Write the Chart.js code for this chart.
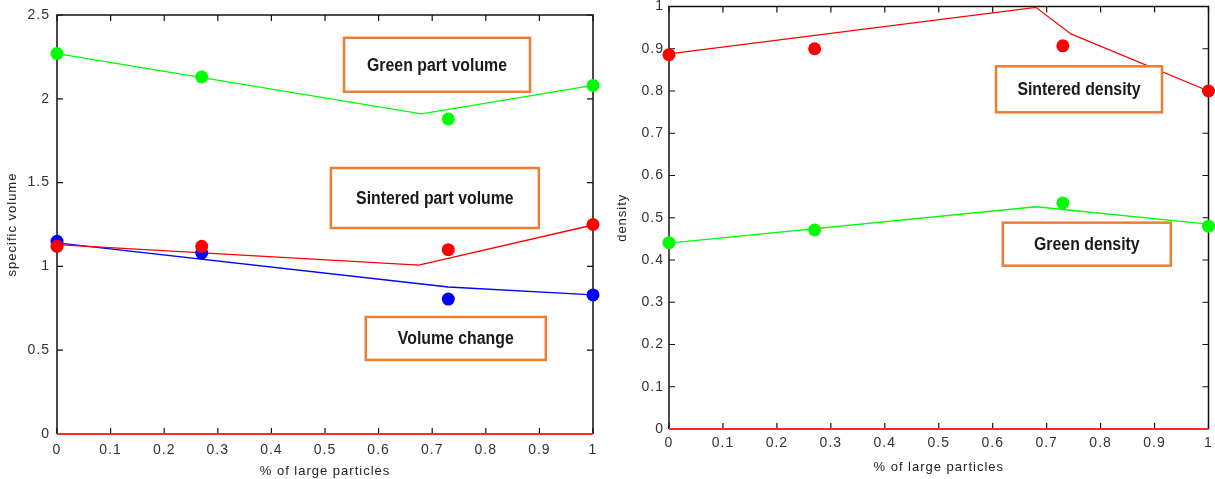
<!DOCTYPE html>
<html>
<head>
<meta charset="utf-8">
<script src="https://cdn.jsdelivr.net/npm/chart.js@4/dist/chart.umd.min.js"></script>
<style>
  html, body { margin: 0; padding: 0; background: #fff; }
  #left  { position: absolute; left: 0;   top: 0; }
  #right { position: absolute; left: 605px; top: 0; }
</style>
</head>
<body>
<canvas id="left" width="605" height="479"></canvas>
<canvas id="right" width="610" height="479"></canvas>
<script>
// ── Data ────────────────────────────────────────────────────────────────
const xMeasured = [0, 0.27, 0.73, 1];

// specific volume (left panel)
const greenVolume    = [2.27, 2.13, 1.88, 2.08];
const sinteredVolume = [1.12, 1.12, 1.10, 1.25];
const volumeChange   = [1.15, 1.08, 0.805, 0.83];

// fitted curves, left panel
const greenVolumeFitX    = [0, 0.68, 1];
const greenVolumeFit     = [2.27, 1.91, 2.08];
const sinteredVolumeFitX = [0, 0.675, 1];
const sinteredVolumeFit  = [1.13, 1.008, 1.247];
const volumeChangeFitX   = [0, 0.73, 1];
const volumeChangeFit    = [1.14, 0.877, 0.83];

// density (right panel)
const sinteredDensity = [0.886, 0.90, 0.907, 0.80];
const greenDensity    = [0.441, 0.471, 0.535, 0.48];

const sinteredDensityFitX = [0, 0.68, 0.745, 1];
const sinteredDensityFit  = [0.888, 0.998, 0.935, 0.80];
const greenDensityFitX    = [0, 0.68, 1];
const greenDensityFit     = [0.44, 0.526, 0.485];

const volumeLabels  = ['Green part volume', 'Sintered part volume', 'Volume change'];
const densityLabels = ['Sintered density', 'Green density'];

// ── Styling helpers ─────────────────────────────────────────────────────
const GREEN = '#00ff00', RED = '#ff0000', BLUE = '#0000ff', ORANGE = '#ed7d31';
const FAMILY = "'Liberation Sans', Arial, sans-serif";

const pairs = (xs, ys) => xs.map((x, i) => ({ x, y: ys[i] }));
const fmt = v => String(Math.round(v * 10) / 10);

function dots(ys, color) {
  return {
    data: pairs(xMeasured, ys), showLine: false, clip: false,
    pointRadius: 6.5, pointHoverRadius: 6.5, borderWidth: 0,
    pointBackgroundColor: color, pointBorderColor: color,
  };
}

function curve(xs, ys, color) {
  return {
    data: pairs(xs, ys), showLine: true, clip: false,
    pointRadius: 0, borderColor: color, borderWidth: 1.3, tension: 0,
  };
}

// Black frame with inward ticks, red line along y = 0
const framePlugin = {
  id: 'frame',
  beforeDraw(chart) { chart.ctx.letterSpacing = '1px'; },
  beforeDatasetsDraw(chart) {
    const { ctx, chartArea: a, scales: { x, y } } = chart;
    ctx.save();
    ctx.strokeStyle = '#111';
    ctx.lineWidth = 1.5;
    ctx.beginPath();
    ctx.moveTo(a.left, a.bottom); ctx.lineTo(a.left, a.top);
    ctx.lineTo(a.right, a.top);   ctx.lineTo(a.right, a.bottom);
    ctx.stroke();
    ctx.lineWidth = 1.2;
    ctx.beginPath();
    x.ticks.forEach(t => {
      const px = x.getPixelForValue(t.value);
      ctx.moveTo(px, a.bottom); ctx.lineTo(px, a.bottom - 6);
      ctx.moveTo(px, a.top);    ctx.lineTo(px, a.top + 6);
    });
    y.ticks.forEach(t => {
      const py = y.getPixelForValue(t.value);
      ctx.moveTo(a.left, py);  ctx.lineTo(a.left + 6, py);
      ctx.moveTo(a.right, py); ctx.lineTo(a.right - 6, py);
    });
    ctx.stroke();
    ctx.strokeStyle = '#ff2a2a';
    ctx.lineWidth = 2;
    ctx.beginPath();
    ctx.moveTo(a.left, a.bottom); ctx.lineTo(a.right, a.bottom);
    ctx.stroke();
    ctx.restore();
  }
};

// Orange-bordered text boxes, centred on data coordinates
const boxPlugin = {
  id: 'boxes',
  afterDatasetsDraw(chart, args, opts) {
    const { ctx, scales: { x, y } } = chart;
    (opts.items || []).forEach(b => {
      const cx = x.getPixelForValue(b.x), cy = y.getPixelForValue(b.y);
      ctx.save();
      ctx.letterSpacing = '0px';
      ctx.fillStyle = '#fff';
      ctx.fillRect(cx - b.w / 2, cy - b.h / 2, b.w, b.h);
      ctx.strokeStyle = ORANGE;
      ctx.lineWidth = 2.5;
      ctx.strokeRect(cx - b.w / 2, cy - b.h / 2, b.w, b.h);
      // condensed look: squeeze a bold face horizontally
      ctx.translate(cx, cy + 1);
      ctx.scale(0.88, 1);
      ctx.fillStyle = '#1a1a1a';
      ctx.font = 'bold 18px ' + FAMILY;
      ctx.textAlign = 'center';
      ctx.textBaseline = 'middle';
      ctx.fillText(b.text, 0, 0);
      ctx.restore();
    });
  }
};

function scales(opt) {
  return {
    x: {
      type: 'linear', min: 0, max: 1,
      grid: { display: false, drawTicks: false }, border: { display: false },
      ticks: { stepSize: 0.1, autoSkip: false, maxRotation: 0, padding: opt.xPad,
               color: '#333', font: { size: 14, family: FAMILY }, callback: fmt },
      title: { display: true, text: '% of large particles', color: '#222',
               font: { size: 13, family: FAMILY }, padding: { top: 0, bottom: opt.xTitlePad } },
      afterFit: s => { s.height = opt.xHeight; s.paddingLeft = 0; s.paddingRight = 0; },
    },
    y: {
      type: 'linear', min: 0, max: opt.yMax,
      grid: { display: false, drawTicks: false }, border: { display: false },
      ticks: { stepSize: opt.yStep, autoSkip: false, padding: opt.yPad,
               color: '#333', font: { size: 14, family: FAMILY }, callback: fmt },
      title: { display: true, text: opt.yTitle, color: '#222',
               font: { size: 13, family: FAMILY }, padding: { top: opt.yTitlePad, bottom: 0 } },
      afterFit: s => { s.width = opt.yWidth; s.paddingTop = 0; s.paddingBottom = 0; },
    },
  };
}

const common = {
  responsive: false, animation: false, devicePixelRatio: 1,
  plugins: { legend: { display: false }, tooltip: { enabled: false } },
};

// ── Left panel: specific volume ─────────────────────────────────────────
new Chart(document.getElementById('left'), {
  type: 'scatter',
  data: {
    datasets: [
      dots(greenVolume, GREEN), dots(sinteredVolume, RED), dots(volumeChange, BLUE),
      curve(greenVolumeFitX, greenVolumeFit, GREEN),
      curve(sinteredVolumeFitX, sinteredVolumeFit, RED),
      curve(volumeChangeFitX, volumeChangeFit, BLUE),
    ],
  },
  options: {
    ...common,
    layout: { padding: { left: 0, top: 15, right: 12, bottom: 0 } },
    scales: scales({ yMax: 2.5, yStep: 0.5, yTitle: 'specific volume', yWidth: 57, yPad: 7,
                     yTitlePad: 5, xHeight: 45, xPad: 8, xTitlePad: 0 }),
    plugins: {
      ...common.plugins,
      boxes: { items: [
        { text: volumeLabels[0], x: 0.709, y: 2.203, w: 186, h: 54 },
        { text: volumeLabels[1], x: 0.705, y: 1.408, w: 208, h: 60 },
        { text: volumeLabels[2], x: 0.744, y: 0.570, w: 180, h: 43 },
      ] },
    },
  },
  plugins: [framePlugin, boxPlugin],
});

// ── Right panel: density ────────────────────────────────────────────────
new Chart(document.getElementById('right'), {
  type: 'scatter',
  data: {
    datasets: [
      dots(sinteredDensity, RED), dots(greenDensity, GREEN),
      curve(sinteredDensityFitX, sinteredDensityFit, RED),
      curve(greenDensityFitX, greenDensityFit, GREEN),
    ],
  },
  options: {
    ...common,
    layout: { padding: { left: 0, top: 5, right: 5, bottom: 0 } },
    scales: scales({ yMax: 1, yStep: 0.1, yTitle: 'density', yWidth: 64, yPad: 5,
                     yTitlePad: 10, xHeight: 50, xPad: 6, xTitlePad: 4 }),
    plugins: {
      ...common.plugins,
      boxes: { items: [
        { text: densityLabels[0], x: 0.760, y: 0.804, w: 166, h: 46 },
        { text: densityLabels[1], x: 0.7745, y: 0.4375, w: 168, h: 43 },
      ] },
    },
  },
  plugins: [framePlugin, boxPlugin],
});
</script>
</body>
</html>
